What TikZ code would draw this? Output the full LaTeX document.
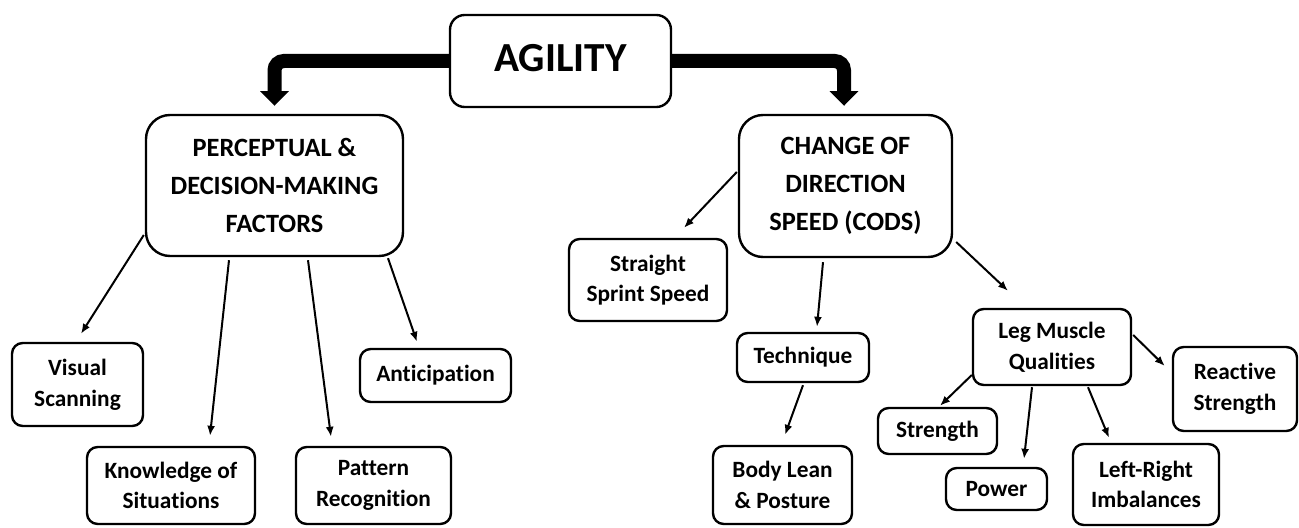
\documentclass[tikz,border=0pt]{standalone}
\usepackage{fontspec}
\setmainfont{Carlito}[Ligatures={NoCommon,NoRare}]
\usetikzlibrary{calc,arrows.meta}
\begin{document}
\begin{tikzpicture}[x=0.75pt,y=-0.75pt,
  box/.style={draw, line width=1.8pt, rounded corners=8pt, fill=white, align=center,
              inner sep=0pt, font=\bfseries\fontsize{17.5}{23}\selectfont},
  head/.style={box, rounded corners=18pt, font=\bfseries\fontsize{19.8}{28.5}\selectfont},
  topbox/.style={box, rounded corners=11pt, font=\bfseries\fontsize{31}{36}\selectfont},
  sz/.style 2 args={minimum width=#1*0.75pt, minimum height=#2*0.75pt},
  link/.style={line width=1.5pt, -{Latex[length=7.5pt,width=6pt]}},
  bigarrow/.style={line width=10.5pt, rounded corners=7pt, -{Triangle[length=11pt,width=21pt]}}]

\useasboundingbox (0,0) rectangle (1299,528);

% main concept
\node[topbox, sz={221}{92}] (agility) at (560.5,61) {\raisebox{4.5pt}{AGILITY}};

% two branches
\node[head, sz={257}{141}] (perc) at (274.5,185.5) {PERCEPTUAL \&\\DECISION-MAKING\\FACTORS};
\node[head, sz={213}{142}] (cods) at (845.5,186) {CHANGE OF\\DIRECTION\\SPEED (CODS)};

% perceptual factors
\node[box, sz={131}{83}] (visual) at (77.5,384.5) {Visual\\Scanning};
\node[box, sz={168}{77}] (know) at (171,485.5) {Knowledge of\\Situations};
\node[box, sz={155}{77}] (pattern) at (373.5,485.5) {Pattern\\Recognition};
\node[box, sz={151}{53}] (antic) at (435.5,375.5) {Anticipation};

% CODS factors
\node[box, sz={158}{82}] (sprint) at (648,280) {Straight\\Sprint Speed};
\node[box, sz={132}{49}] (tech) at (803,357.5) {Technique};
\node[box, sz={139}{78}] (lean) at (782.5,485) {Body Lean\\\& Posture};
\node[box, sz={158}{76}] (leg) at (1052,347) {Leg Muscle\\Qualities};
\node[box, sz={124}{84}] (reactive) at (1235,389) {Reactive\\Strength};
\node[box, sz={119}{46}] (strength) at (937.5,431) {Strength};
\node[box, sz={101}{42}] (power) at (996.5,489) {Power};
\node[box, sz={146}{81}] (lr) at (1146,484.5) {Left-Right\\Imbalances};

% heavy arrows from the main concept
\draw[bigarrow] (agility.west) -| ($(perc.north)+(0,-8)$);
\draw[bigarrow] (agility.east) -| ($(cods.north)+(-1.5,-8)$);

% perceptual links
\draw[link] ($(perc.west)+(-1,49.5)$) -- ($(visual.north)+(3.5,-8)$);
\draw[link] ($(perc.south)+(-45.5,3)$) -- ($(know.north)+(39,-10)$);
\draw[link] ($(perc.south)+(33.5,3)$) -- ($(pattern.north)+(-42.5,-9)$);
\draw[link] ($(perc.south)+(113.5,1)$) -- ($(antic.north)+(-18.5,-6)$);

% CODS links
\draw[link] ($(cods.west)+(-1,-14)$) -- ($(sprint.north)+(36,-10)$);
\draw[link] ($(cods.south)+(-22.5,4)$) -- ($(tech.north)+(14,-5)$);
\draw[link] ($(cods.east)+(3,56)$) -- ($(leg.north)+(-44,-17)$);
\draw[link] ($(tech.south)+(0,2)$) -- ($(lean.north)+(2.5,-10)$);

% leg muscle links
\draw[link] ($(leg.west)+(0,28)$) -- ($(strength.north)+(2.5,-1)$);
\draw[link] ($(leg.south)+(-20,1)$) -- ($(power.north)+(27.5,-8)$);
\draw[link] ($(leg.south)+(36,1)$) -- ($(lr.north)+(-37,-5)$);
\draw[link] ($(leg.east)+(1,-12)$) -- ($(reactive.west)+(-7,-23)$);
\end{tikzpicture}
\end{document}
